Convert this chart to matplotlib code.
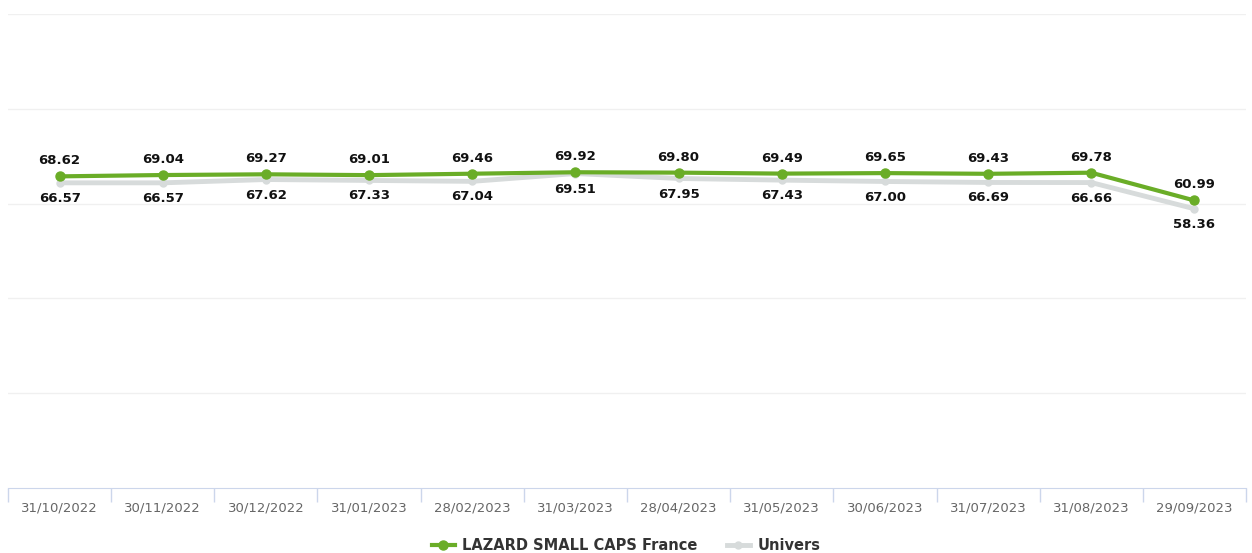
import numpy as np
import matplotlib.pyplot as plt

dates = ["31/10/2022", "30/11/2022", "30/12/2022", "31/01/2023", "28/02/2023",
         "31/03/2023", "28/04/2023", "31/05/2023", "30/06/2023", "31/07/2023",
         "31/08/2023", "29/09/2023"]
lazard = [68.62, 69.04, 69.27, 69.01, 69.46, 69.92, 69.80, 69.49, 69.65, 69.43, 69.78, 60.99]
univers = [66.57, 66.57, 67.62, 67.33, 67.04, 69.51, 67.95, 67.43, 67.00, 66.69, 66.66, 58.36]

green = "#6aad27"
grey = "#d7dbdb"

fig = plt.figure(figsize=(12.52, 5.53), dpi=100)
ax = fig.add_axes([8/1252, 1-488/553, 1238/1252, 474/553])

x = np.arange(len(dates))
ax.plot(x, univers, color=grey, lw=3.5, marker="o", ms=5, zorder=2, solid_capstyle="round")
ax.plot(x, lazard, color=green, lw=3, marker="o", ms=6.5, zorder=3)

for xi, v in zip(x, lazard):
    ax.annotate(f"{v:.2f}", (xi, v), xytext=(0, 6.5), textcoords="offset points",
                ha="center", va="bottom", fontsize=9.5, fontweight="bold", color="#111111")
for xi, v in zip(x, univers):
    ax.annotate(f"{v:.2f}", (xi, v), xytext=(0, -6.5), textcoords="offset points",
                ha="center", va="top", fontsize=9.5, fontweight="bold", color="#111111")

ax.set_xlim(-0.5, len(dates) - 0.5)
ax.set_ylim(-30, 120)
ax.set_yticks([0, 30, 60, 90, 120])
ax.yaxis.grid(True, color="#f0f0f0", lw=1)
ax.tick_params(axis="y", left=False, labelleft=False)

ax.set_xticks(x)
ax.set_xticklabels(dates, fontsize=9.5, color="#666666")
ax.tick_params(axis="x", length=0, pad=10)
ax.set_xticks(np.arange(len(dates) + 1) - 0.5, minor=True)
ax.tick_params(axis="x", which="minor", length=10, color="#ccd6eb", width=1)

for s in ["top", "right", "left"]:
    ax.spines[s].set_visible(False)
ax.spines["bottom"].set_color("#ccd6eb")
ax.set_axisbelow(True)

h1, = ax.plot([], [], color=green, lw=3, marker="o", ms=6.5)
h2, = ax.plot([], [], color=grey, lw=3.5, marker="o", ms=5)
fig.legend([h1, h2], ["LAZARD SMALL CAPS France", "Univers"], loc="center",
           bbox_to_anchor=(0.5, 1-546/553), ncol=2, frameon=False,
           prop={"weight": "bold", "size": 10.5}, labelcolor="#333333",
           handlelength=1.6, columnspacing=2.0, handletextpad=0.5)

fig.savefig("out.png", dpi=100)
